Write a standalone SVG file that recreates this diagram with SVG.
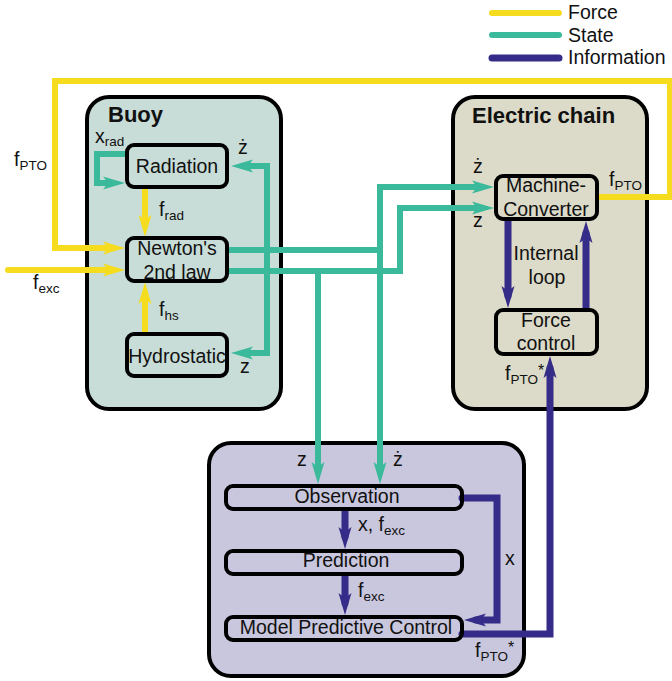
<svg xmlns="http://www.w3.org/2000/svg" width="672" height="681" viewBox="0 0 672 681">
<defs>
<style>
text{font-family:"Liberation Sans",Arial,sans-serif;font-size:19.5px;fill:#111}
.b{font-weight:bold;font-size:22px}
.m{text-anchor:middle}
.s{font-size:13.5px}
.st{font-size:16px}
.box{stroke:#000;stroke-width:4}
.in{fill:none;stroke:#000;stroke-width:4}
.y{fill:none;stroke:#f5dc1e;stroke-width:6;stroke-linecap:round}
.t{fill:none;stroke:#3bba9b;stroke-width:6;stroke-linecap:round}
.n{fill:none;stroke:#352b88;stroke-width:7;stroke-linecap:round}
</style>
<marker id="ay" markerUnits="userSpaceOnUse" markerWidth="22" markerHeight="14" refX="10" refY="6.5" orient="auto-start-reverse" viewBox="0 0 22 13"><path d="M0,0 L22,6.5 L0,13 L5,6.5 z" fill="#f5dc1e"/></marker>
<marker id="at" markerUnits="userSpaceOnUse" markerWidth="22" markerHeight="14" refX="10" refY="6.5" orient="auto-start-reverse" viewBox="0 0 22 13"><path d="M0,0 L22,6.5 L0,13 L5,6.5 z" fill="#3bba9b"/></marker>
<marker id="an" markerUnits="userSpaceOnUse" markerWidth="22" markerHeight="14" refX="10" refY="6.5" orient="auto-start-reverse" viewBox="0 0 22 13"><path d="M0,0 L22,6.5 L0,13 L5,6.5 z" fill="#352b88"/></marker>
</defs>

<g id="legend">
<line x1="492" y1="13" x2="559" y2="13" class="y" stroke-width="7"/>
<line x1="492" y1="35" x2="559" y2="35" class="t" stroke-width="7"/>
<line x1="492" y1="58" x2="559" y2="58" class="n"/>
<text x="568" y="19">Force</text>
<text x="568" y="42">State</text>
<text x="568" y="64">Information</text>
</g>

<g id="buoy">
<rect x="87" y="97" width="194" height="312" rx="22" fill="#c8ddd7" class="box"/>
<text x="108" y="122" class="b">Buoy</text>
</g>
<g id="electric-chain">
<rect x="453" y="97" width="194" height="312" rx="22" fill="#dcdac8" class="box"/>
<text x="472" y="123" class="b">Electric chain</text>
</g>
<g id="mpc-block">
<rect x="209" y="443" width="315" height="233" rx="22" fill="#c9c7dd" class="box"/>
</g>

<g id="connectors">
<path class="y" d="M598,197 H670 V81 H55 V248 H113" marker-end="url(#ay)"/>
<path class="y" d="M8,270 H113" marker-end="url(#ay)"/>
<path class="y" d="M145,190 V225" marker-end="url(#ay)"/>
<path class="y" d="M145,333 V294" marker-end="url(#ay)"/>

<path class="t" d="M125,154 H97 V183 H113" marker-end="url(#at)"/>
<path class="t" d="M243,166 H267 V353 H243" marker-start="url(#at)" marker-end="url(#at)"/>
<path class="t" d="M229,250 H380"/>
<path class="t" d="M380,250 V187 H482" marker-end="url(#at)"/>
<path class="t" d="M380,250 V472" marker-end="url(#at)"/>
<path class="t" d="M229,271 H400 V208 H482" marker-end="url(#at)"/>
<path class="t" d="M318,271 V472" marker-end="url(#at)"/>

<path class="n" d="M345,511 V537" marker-end="url(#an)"/>
<path class="n" d="M345,576 V603" marker-end="url(#an)"/>
<path class="n" d="M462,498 H497 V620 H476" marker-end="url(#an)"/>
<path class="n" d="M462,634 H550 V368" marker-end="url(#an)"/>
<path class="n" d="M508,221 V296" marker-end="url(#an)"/>
<path class="n" d="M586,308 V233" marker-end="url(#an)"/>
</g>

<g id="radiation">
<rect x="127" y="145" width="100" height="42" rx="7" fill="#c8ddd7" class="in"/>
<text x="177" y="173" class="m">Radiation</text>
</g>
<g id="newton">
<rect x="127" y="238" width="100" height="43" rx="7" fill="#c8ddd7" class="in"/>
<text x="177" y="255" class="m">Newton's</text>
<text x="177" y="279" class="m">2nd law</text>
</g>
<g id="hydrostatic">
<rect x="127" y="334" width="100" height="42" rx="7" fill="#c8ddd7" class="in"/>
<text x="177" y="363" class="m">Hydrostatic</text>
</g>
<g id="machine-converter">
<rect x="496" y="176" width="101" height="43" rx="7" fill="#dcdac8" class="in"/>
<text x="546" y="192" class="m">Machine-</text>
<text x="546" y="216" class="m">Converter</text>
</g>
<g id="force-control">
<rect x="496" y="310" width="101" height="44" rx="7" fill="#dcdac8" class="in"/>
<text x="546" y="327" class="m">Force</text>
<text x="546" y="350" class="m">control</text>
</g>
<g id="observation">
<rect x="226" y="486" width="236" height="23" rx="7" fill="#c9c7dd" class="in"/>
<text x="347" y="503" class="m">Observation</text>
</g>
<g id="prediction">
<rect x="226" y="551" width="236" height="23" rx="7" fill="#c9c7dd" class="in"/>
<text x="346" y="567" class="m">Prediction</text>
</g>
<g id="model-predictive-control">
<rect x="226" y="617" width="236" height="23" rx="7" fill="#c9c7dd" class="in"/>
<text x="346" y="634" class="m">Model Predictive Control</text>
</g>

<g id="labels">
<text x="95" y="143">x<tspan class="s" dy="3">rad</tspan></text>
<text x="238" y="154">ż</text>
<text x="159" y="216">f<tspan class="s" dy="4">rad</tspan></text>
<text x="159" y="316">f<tspan class="s" dy="4">hs</tspan></text>
<text x="240" y="373">z</text>
<text x="14" y="166">f<tspan class="s" dy="4">PTO</tspan></text>
<text x="33" y="289">f<tspan class="s" dy="4">exc</tspan></text>
<text x="473" y="173">ż</text>
<text x="473" y="227">z</text>
<text x="609" y="186">f<tspan class="s" dy="4">PTO</tspan></text>
<text x="546" y="260" class="m">Internal</text>
<text x="547" y="284" class="m">loop</text>
<text x="505" y="380">f<tspan class="s" dy="4">PTO</tspan><tspan class="st" dy="-8">*</tspan></text>
<text x="297" y="466">z</text>
<text x="393" y="466">ż</text>
<text x="358" y="531">x, f<tspan class="s" dy="4">exc</tspan></text>
<text x="358" y="597">f<tspan class="s" dy="4">exc</tspan></text>
<text x="505" y="565">x</text>
<text x="475" y="657">f<tspan class="s" dy="4">PTO</tspan><tspan class="st" dy="-8">*</tspan></text>
</g>
</svg>
